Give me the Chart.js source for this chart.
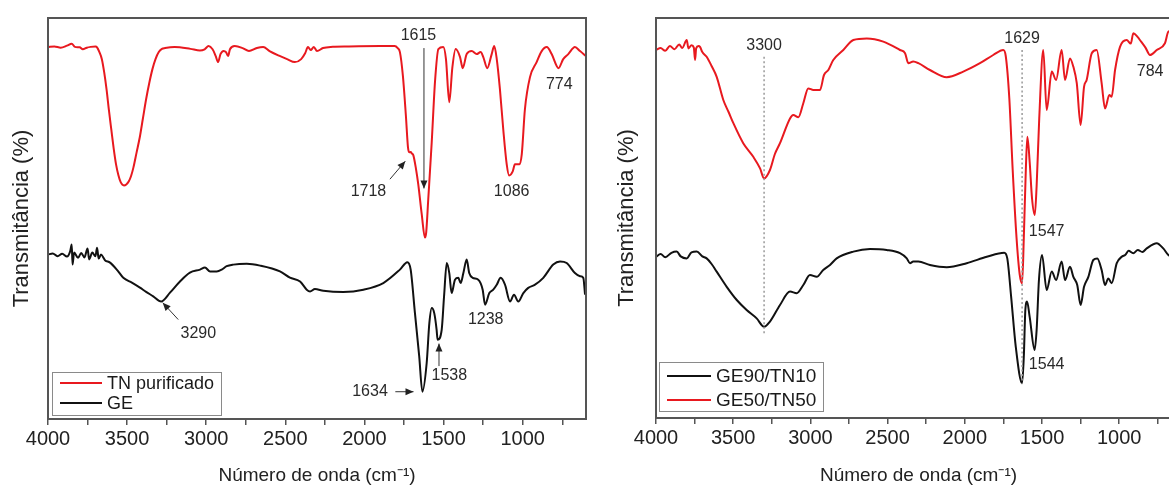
<!DOCTYPE html>
<html>
<head>
<meta charset="utf-8">
<script src="https://cdn.jsdelivr.net/npm/chart.js@4.4.1/dist/chart.umd.min.js"></script>
<style>
  html, body { margin: 0; padding: 0; background: #fff; overflow: hidden; }
  #wrap { position: relative; width: 1169px; height: 487px; overflow: hidden; }
  canvas { position: absolute; top: 0; }
</style>
</head>
<body>
<div id="wrap">
  <canvas id="chartLeft" width="600" height="487" style="left:0"></canvas>
  <canvas id="chartRight" width="595" height="487" style="left:600px"></canvas>
</div>
<script>
// x ticks (cm-1), labelled every 500
const xTicks = [4000, 3750, 3500, 3250, 3000, 2750, 2500, 2250, 2000, 1750, 1500, 1250, 1000, 750];

// Left panel: TN purificado
const wnTN = [4000, 3960, 3920, 3880, 3850, 3830, 3800, 3780, 3755, 3730, 3700, 3690, 3675, 3660, 3645, 3630, 3615, 3600, 3585, 3570, 3555, 3540, 3520, 3505, 3490, 3475, 3460, 3440, 3420, 3400, 3380, 3360, 3340, 3320, 3300, 3280, 3260, 3200, 3100, 3040, 3010, 2985, 2960, 2940, 2925, 2910, 2890, 2875, 2862, 2850, 2820, 2770, 2730, 2680, 2640, 2600, 2540, 2489, 2440, 2400, 2375, 2357, 2340, 2320, 2300, 2262, 2200, 2100, 1900, 1810, 1790, 1776, 1757, 1738, 1725, 1716, 1708, 1700, 1691, 1675, 1660, 1638, 1618, 1610, 1597, 1575, 1554, 1533, 1502, 1485, 1464, 1445, 1424, 1396, 1379, 1354, 1322, 1291, 1266, 1249, 1224, 1196, 1180, 1164, 1144, 1123, 1101, 1086, 1063, 1049, 1022, 1006, 986, 954, 912, 880, 848, 817, 785, 774, 744, 712, 670, 638, 600];
const tnPurificado = [92.75, 92.9, 92.6, 93.1, 93.6, 92.8, 92.7, 92.2, 92.6, 92.8, 92.9, 92.7, 91.5, 89.8, 86.5, 82.2, 77, 72.2, 67.5, 63.5, 60.8, 59, 58.25, 58.5, 59.2, 60.6, 62.75, 66.5, 70.25, 75, 79.75, 83.8, 87.25, 89.8, 91.5, 92.3, 92.5, 92.75, 92.3, 91.9, 92.2, 93, 92.2, 90.5, 89, 91, 91.8, 91.5, 90.5, 92.2, 93, 92.5, 91.75, 92.5, 92.75, 91.75, 90.6, 89.75, 89, 89.75, 91.2, 92.75, 92, 92.75, 91.75, 92.5, 92.8, 92.9, 93, 93, 92.5, 91.5, 85.5, 75.5, 67.75, 66.5, 66.6, 66.2, 65.75, 62.5, 58.5, 51, 45.25, 46.5, 54.75, 69, 84.25, 92.25, 92.75, 89.75, 79, 87.5, 92.25, 90.25, 87.5, 91, 91.75, 91, 91.5, 90.25, 87.5, 91, 93, 89.75, 82.25, 72.25, 63.5, 60.75, 61.75, 63.5, 63.5, 66, 77.25, 85.25, 89, 91.75, 92.75, 91, 88, 87.5, 89.75, 91, 92.75, 91.75, 90.5];

// Left panel: GE
const wnGE = [4000, 3970, 3940, 3910, 3880, 3860, 3850, 3845, 3835, 3810, 3790, 3770, 3750, 3740, 3720, 3700, 3690, 3680, 3665, 3640, 3608, 3560, 3524, 3470, 3419, 3380, 3335, 3285, 3229, 3166, 3103, 3039, 3008, 2976, 2934, 2902, 2871, 2829, 2744, 2660, 2534, 2471, 2407, 2365, 2344, 2313, 2260, 2134, 2007, 1881, 1776, 1729, 1708, 1681, 1654, 1634, 1607, 1590, 1575, 1559, 1544, 1538, 1512, 1497, 1480, 1464, 1449, 1428, 1407, 1392, 1375, 1354, 1338, 1316, 1281, 1253, 1238, 1211, 1186, 1164, 1139, 1112, 1080, 1055, 1028, 996, 965, 922, 870, 807, 764, 722, 670, 638, 617, 606];
const ge = [41, 41.3, 40.6, 41.2, 40.5, 41.8, 43.5, 38.5, 41.5, 40.2, 41.4, 40.3, 42.5, 39.8, 41.5, 40.6, 42.7, 40, 41, 39.6, 39, 37, 35.2, 34, 32.75, 31.7, 30.6, 29.3, 31.5, 34.3, 36.5, 37.25, 37.75, 36.8, 36.8, 37.25, 38.1, 38.5, 38.7, 38.25, 36.8, 35.25, 34.3, 32.25, 31.8, 32.4, 32, 31.7, 32.25, 33.9, 37.25, 39.1, 37.25, 26.4, 15.6, 6.8, 13.9, 23.9, 27.7, 26.4, 22.25, 19.75, 22.25, 30.6, 38.9, 36.4, 31.4, 34.75, 35.2, 33.9, 36.4, 39.75, 36.4, 35.2, 34.75, 32.25, 28.5, 31.4, 32.25, 33.5, 35.2, 33.5, 29.3, 31, 29.3, 31.4, 32.7, 33.5, 35.2, 38.5, 39.3, 38.9, 36.4, 35.6, 35.2, 31];

// Right panel: GE90/TN10
const wnGE90 = [4000, 3970, 3940, 3900, 3866, 3840, 3801, 3770, 3736, 3700, 3672, 3640, 3607, 3542, 3477, 3413, 3348, 3300, 3262, 3197, 3132, 3089, 3046, 3003, 2959, 2917, 2873, 2830, 2722, 2614, 2506, 2420, 2376, 2355, 2334, 2301, 2226, 2117, 1988, 1858, 1745, 1725, 1700, 1670, 1629, 1618, 1608, 1597, 1580, 1548, 1535, 1520, 1500, 1470, 1437, 1409, 1373, 1351, 1319, 1297, 1272, 1250, 1228, 1200, 1168, 1142, 1114, 1092, 1071, 1049, 1016, 984, 960, 940, 909, 880, 850, 822, 757, 715, 682, 640, 600];
const ge90tn10 = [40.3, 41, 40.2, 41.3, 41.6, 40.4, 39.9, 41.4, 41.6, 40.4, 39.9, 38.5, 36.6, 32.8, 29.5, 27, 24.9, 22.8, 24.1, 28.25, 31.6, 31.2, 33.25, 35.75, 35.3, 37, 38.25, 39.9, 41.6, 42.25, 42, 41.2, 39.9, 38.7, 39.1, 39.1, 38.25, 37.7, 38.7, 40.3, 41.3, 39.9, 30.3, 17.8, 8.7, 15.3, 27, 29.1, 25.3, 17, 22, 34.5, 40.75, 32, 36.6, 34.5, 39.1, 34.5, 37.8, 35.3, 33.25, 28.25, 32.8, 35.3, 39.5, 39.9, 37, 33.25, 34.9, 33.7, 38.7, 40.3, 40.8, 41.8, 41.2, 42, 41.5, 42.4, 43.7, 42.4, 40.75, 40, 39];

// Right panel: GE50/TN50
const wnGE50 = [4000, 3970, 3940, 3910, 3880, 3850, 3830, 3801, 3790, 3770, 3755, 3747, 3740, 3725, 3715, 3700, 3672, 3640, 3607, 3564, 3530, 3499, 3435, 3370, 3326, 3300, 3262, 3230, 3197, 3132, 3111, 3078, 3046, 3014, 2981, 2938, 2912, 2884, 2852, 2787, 2722, 2635, 2528, 2420, 2387, 2366, 2334, 2301, 2226, 2117, 2010, 1902, 1816, 1751, 1735, 1712, 1690, 1665, 1645, 1629, 1618, 1605, 1595, 1580, 1565, 1547, 1535, 1518, 1492, 1470, 1437, 1409, 1373, 1351, 1319, 1297, 1275, 1250, 1228, 1211, 1178, 1146, 1114, 1092, 1064, 1049, 1027, 995, 952, 925, 909, 880, 866, 830, 801, 757, 704, 682, 650, 600];
const ge50tn50 = [92, 92.5, 91.8, 93, 92.2, 93.4, 92.5, 94.5, 92.4, 93.2, 92.6, 89.5, 92.4, 93, 92.8, 91.5, 90.3, 88, 85.3, 79.5, 76.5, 73.7, 68.7, 65.3, 62.4, 59.9, 62, 66, 68.7, 74.9, 75.75, 75.2, 78.7, 82.4, 82, 82, 85.75, 87, 89.5, 92, 94.5, 94.9, 94.1, 92, 91.2, 88.7, 89.1, 88.7, 87, 85.2, 86.6, 88.7, 90.75, 92, 90.5, 80, 62, 45, 36, 33.7, 45, 62, 70.3, 64, 55, 50.75, 58, 75, 92, 77, 86.6, 84.5, 92, 84.5, 89.9, 87.8, 83.7, 73.25, 82.8, 84.5, 91.2, 92, 83.7, 77.4, 80.75, 80.3, 87, 92.8, 94.5, 93.6, 96.2, 95.2, 94.5, 92.6, 90.75, 92, 93.7, 96.6, 97, 96];

// Peak labels: text, label position [wn, T], optional arrow / dotted guide
const notesLeft = [
  {text: '1615', at: [1659, 95.6], arrow: [[1624, 92.5], [1624, 57.5]]},
  {text: '1718', at: [1975, 56.6], arrow: [[1839, 59.8], [1742, 64.3]]},
  {text: '1086', at: [1070, 56.6]},
  {text: '774', at: [769, 83.3]},
  {text: '3290', at: [3050, 21.4], arrow: [[3177, 24.8], [3275, 29]]},
  {text: '1238', at: [1234, 24.8]},
  {text: '1538', at: [1464, 10.8], arrow: [[1529, 13.2], [1529, 18.8]]},
  {text: '1634', at: [1965, 6.8], arrow: [[1805, 6.8], [1690, 6.8]]},
];
const notesRight = [
  {text: '3300', at: [3300, 93.1], dotted: [[3300, 90.3], [3300, 20.8]]},
  {text: '1629', at: [1629, 94.9], dotted: [[1629, 92], [1629, 8.5]]},
  {text: '1547', at: [1470, 46.6]},
  {text: '1544', at: [1470, 13.3]},
  {text: '784', at: [800, 86.6]},
];

const RED = '#e8191f';
const BLACK = '#111111';
const FONT = '"Liberation Sans", Arial, sans-serif';
Chart.defaults.font.family = FONT;

const toXY = (wn, vals) => wn.map((w, i) => ({x: w, y: vals[i]}));

const framePlugin = {
  id: 'frame',
  afterDraw(chart) {
    const {ctx, chartArea: a} = chart;
    ctx.save();
    ctx.strokeStyle = '#555';
    ctx.lineWidth = 2;
    ctx.strokeRect(a.left, a.top, a.right - a.left, a.bottom - a.top);
    ctx.restore();
  }
};

function arrowHead(ctx, x0, y0, x1, y1) {
  const ang = Math.atan2(y1 - y0, x1 - x0);
  const len = 8, half = 3.5;
  ctx.beginPath();
  ctx.moveTo(x1, y1);
  ctx.lineTo(x1 - len * Math.cos(ang) + half * Math.sin(ang), y1 - len * Math.sin(ang) - half * Math.cos(ang));
  ctx.lineTo(x1 - len * Math.cos(ang) - half * Math.sin(ang), y1 - len * Math.sin(ang) + half * Math.cos(ang));
  ctx.closePath();
  ctx.fill();
}

const notesPlugin = {
  id: 'notes',
  afterDatasetsDraw(chart, args, opts) {
    const {ctx, scales: {x, y}} = chart;
    ctx.save();
    for (const n of opts.items) {
      if (n.dotted) {
        ctx.strokeStyle = '#999';
        ctx.lineWidth = 1.5;
        ctx.setLineDash([2, 2.5]);
        ctx.beginPath();
        ctx.moveTo(x.getPixelForValue(n.dotted[0][0]), y.getPixelForValue(n.dotted[0][1]));
        ctx.lineTo(x.getPixelForValue(n.dotted[1][0]), y.getPixelForValue(n.dotted[1][1]));
        ctx.stroke();
        ctx.setLineDash([]);
      }
      if (n.arrow) {
        const x0 = x.getPixelForValue(n.arrow[0][0]), y0 = y.getPixelForValue(n.arrow[0][1]);
        const x1 = x.getPixelForValue(n.arrow[1][0]), y1 = y.getPixelForValue(n.arrow[1][1]);
        ctx.strokeStyle = '#333';
        ctx.fillStyle = '#222';
        ctx.lineWidth = 1;
        ctx.beginPath();
        ctx.moveTo(x0, y0);
        ctx.lineTo(x1, y1);
        ctx.stroke();
        arrowHead(ctx, x0, y0, x1, y1);
      }
      ctx.fillStyle = '#2a2a2a';
      ctx.font = '16px ' + FONT;
      ctx.textAlign = 'center';
      ctx.textBaseline = 'middle';
      ctx.fillText(n.text, x.getPixelForValue(n.at[0]), y.getPixelForValue(n.at[1]));
    }
    ctx.restore();
  }
};

const boxLegend = {
  id: 'boxLegend',
  afterDraw(chart, args, o) {
    const {ctx, chartArea: a} = chart;
    const x0 = a.left + o.dx, y0 = a.bottom - o.dy - o.h;
    ctx.save();
    ctx.fillStyle = '#fff';
    ctx.fillRect(x0, y0, o.w, o.h);
    ctx.strokeStyle = '#8a8a8a';
    ctx.lineWidth = 1;
    ctx.strokeRect(x0 + 0.5, y0 + 0.5, o.w, o.h);
    ctx.font = o.size + 'px ' + FONT;
    ctx.textBaseline = 'middle';
    ctx.textAlign = 'left';
    chart.data.datasets.forEach((ds, i) => {
      const yy = y0 + o.first + i * o.row;
      ctx.strokeStyle = ds.borderColor;
      ctx.lineWidth = 2;
      ctx.beginPath();
      ctx.moveTo(x0 + 8, yy);
      ctx.lineTo(x0 + 8 + o.line, yy);
      ctx.stroke();
      ctx.fillStyle = '#1a1a1a';
      ctx.fillText(ds.label, x0 + 13 + o.line, yy + 1);
    });
    ctx.restore();
  }
};

function makeChart(id, datasets, notes, cfg) {
  return new Chart(document.getElementById(id), {
    type: 'line',
    data: {
      datasets: datasets.map(d => ({
        label: d.label,
        data: toXY(d.wn, d.vals),
        borderColor: d.color,
        borderWidth: 2,
        pointRadius: 0,
        fill: false,
        cubicInterpolationMode: 'monotone',
      }))
    },
    options: {
      responsive: false,
      animation: false,
      devicePixelRatio: 1,
      layout: {padding: {top: cfg.top, right: 14, left: 0, bottom: 0}},
      scales: {
        x: {
          type: 'linear', reverse: true, min: 600, max: 4000,
          afterBuildTicks: s => { s.ticks = xTicks.map(v => ({value: v})); },
          afterFit: s => { s.height = cfg.xh; },
          grid: {drawOnChartArea: false, drawTicks: true, tickLength: 6, color: '#555', lineWidth: 1.5},
          border: {display: false},
          ticks: {
            font: {size: 20}, color: '#222', padding: 2, maxRotation: 0, autoSkip: false,
            callback: v => (v % 500 === 0 ? String(v) : '')
          },
          title: {display: true, text: 'Número de onda (cm⁻¹)', font: {size: 19}, color: '#222', padding: {top: 0, bottom: 0}}
        },
        y: {
          min: 0, max: 100,
          afterFit: s => { s.width = cfg.yw; },
          ticks: {display: false},
          grid: {display: false},
          border: {display: false},
          title: {display: true, text: 'Transmitância (%)', font: {size: 22}, color: '#222', padding: {top: cfg.titlePad, bottom: 0}}
        }
      },
      plugins: {
        legend: {display: false},
        tooltip: {enabled: false},
        notes: {items: notes},
        boxLegend: cfg.legend
      }
    },
    plugins: [framePlugin, notesPlugin, boxLegend]
  });
}

makeChart('chartLeft', [
  {label: 'TN purificado', wn: wnTN, vals: tnPurificado, color: RED},
  {label: 'GE', wn: wnGE, vals: ge, color: BLACK},
], notesLeft, {top: 18, xh: 68, yw: 48, titlePad: 9,
  legend: {dx: 4, dy: 4, w: 169, h: 43, first: 11, row: 20, line: 42, size: 18}});

makeChart('chartRight', [
  {label: 'GE90/TN10', wn: wnGE90, vals: ge90tn10, color: BLACK},
  {label: 'GE50/TN50', wn: wnGE50, vals: ge50tn50, color: RED},
], notesRight, {top: 18, xh: 69, yw: 56, titlePad: 14,
  legend: {dx: 3, dy: 7, w: 164, h: 49, first: 14, row: 24, line: 44, size: 19}});
</script>
</body>
</html>
